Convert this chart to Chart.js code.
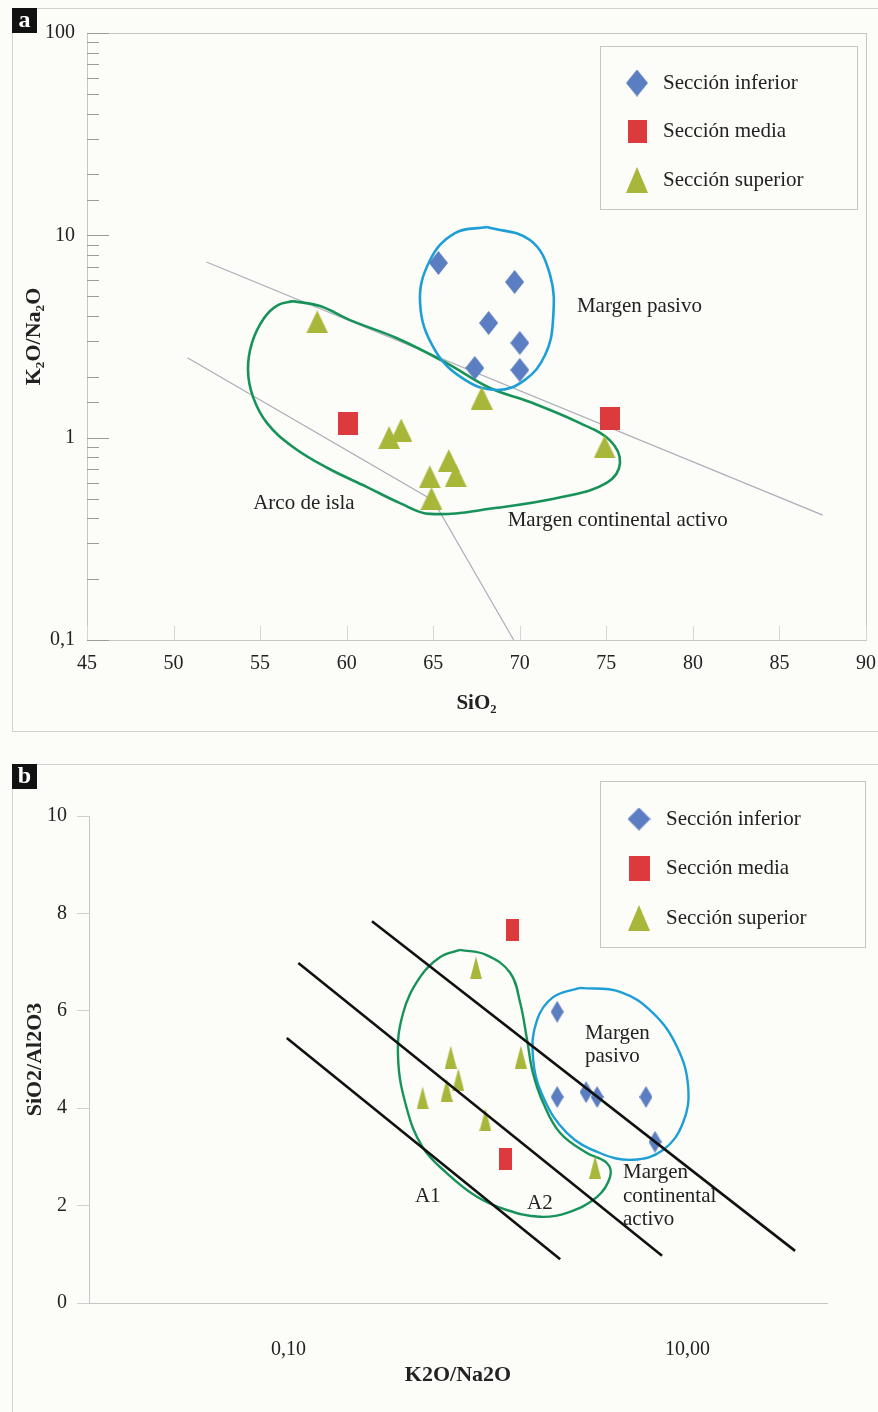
<!DOCTYPE html>
<html lang="es">
<head>
<meta charset="utf-8">
<title>Diagramas de discriminación tectónica</title>
<script src="https://cdn.jsdelivr.net/npm/chart.js@4.4.1/dist/chart.umd.min.js"></script>
<style>
  body { margin: 0; background: #fcfcf8; }
  #page { position: relative; width: 878px; height: 1412px; overflow: hidden; }
  .frame { position: absolute; border: 1px solid #d2d2d2; }
  .box { position: absolute; left: 0; width: 878px; }
  .tag { position: absolute; left: 12px; width: 25px; height: 25px; background: #111; color: #fff;
         font: bold 24px "Liberation Serif", serif; text-align: center; line-height: 22px; }
</style>
</head>
<body>
<div id="page">
  <div class="frame" style="left:12px;top:8px;width:866px;height:722px;"></div>
  <div class="frame" style="left:12px;top:764px;width:866px;height:660px;"></div>
  <div class="box" style="top:0;height:740px;"><canvas id="chartA" width="878" height="740"></canvas></div>
  <div class="box" style="top:740px;height:672px;"><canvas id="chartB" width="878" height="672"></canvas></div>
  <div class="tag" style="top:8px;">a</div>
  <div class="tag" style="top:764px;">b</div>
</div>

<script>
const FONT = '"Liberation Serif", "Times New Roman", serif';
Chart.defaults.font.family = FONT;
Chart.defaults.font.size = 20;
Chart.defaults.color = '#222';

const seriesNames = ['Sección inferior', 'Sección media', 'Sección superior'];
const seriesColors = ['#5b7ec2', '#dc3a3c', '#a8b63a'];

// ---- a) SiO2 vs K2O/Na2O -----------------------------------
const inferiorA_SiO2 = [65.3, 69.7, 68.2, 70.0, 67.4, 70.0];
const inferiorA_K2O = [7.3, 5.88, 3.69, 2.94, 2.21, 2.16];
const mediaA_SiO2 = [60.1, 75.2];
const mediaA_K2O = [1.17, 1.25];
const superiorA_SiO2 = [58.3, 67.8, 62.45, 63.15, 74.9, 64.8, 65.9, 66.3, 64.9];
const superiorA_K2O = [3.73, 1.57, 1.0, 1.09, 0.9, 0.64, 0.77, 0.65, 0.5];

// limites de campos (lineas grises)
const limA1_SiO2 = [51.9, 87.5];
const limA1_K2O = [7.38, 0.414];
const limA2_SiO2 = [50.8, 65.0, 69.65];
const limA2_K2O = [2.48, 0.489, 0.1];

// contorno verde (arco de isla + margen activo)
const campoA_SiO2 = [56.9, 58.46, 60.19, 62.91, 65.8, 68.28, 70.59, 73.48, 75.21, 75.79, 75.04, 72.5,
  68.69, 64.82, 63.08, 61.18, 58.87, 56.9, 55.4, 54.59, 54.3, 54.53, 55.23, 56.03];
const campoA_K2O = [4.73, 4.47, 3.81, 3.1, 2.33, 1.76, 1.5, 1.18, 0.97, 0.75, 0.6, 0.51,
  0.45, 0.42, 0.475, 0.57, 0.71, 0.9, 1.18, 1.59, 2.16, 2.94, 3.9, 4.52];
// contorno azul (margen pasivo)
const pasivoA_SiO2 = [68.11, 70.59, 71.75, 71.92, 71.46, 70.3, 68.69, 66.84, 65.1, 64.24, 64.82, 66.26];
const pasivoA_K2O = [10.99, 9.48, 6.37, 3.81, 2.56, 1.93, 1.72, 1.93, 2.71, 4.63, 7.55, 10.26];

const xTicksA = { min: 45, max: 90, step: 5 };
const yTicksA = [0.1, 1, 10, 100];
const yTickLabelsA = ['0,1', '1', '10', '100'];

// ---- b) K2O/Na2O vs SiO2/Al2O3 ------------------------------
const inferiorB_K2O = [2.22, 2.22, 3.1, 3.52, 6.19, 6.87];
const inferiorB_SiAl = [5.98, 4.23, 4.33, 4.23, 4.23, 3.31];
const mediaB_K2O = [1.33, 1.22];
const mediaB_SiAl = [7.66, 2.96];
const superiorB_K2O = [0.87, 0.65, 1.46, 0.71, 0.62, 0.47, 0.97, 3.44];
const superiorB_SiAl = [6.88, 5.05, 5.05, 4.58, 4.37, 4.21, 3.76, 2.79];

// limites (lineas negras)
const limB1_K2O = [0.098, 2.3];
const limB1_SiAl = [5.44, 0.9];
const limB2_K2O = [0.112, 7.45];
const limB2_SiAl = [6.98, 0.97];
const limB3_K2O = [0.262, 34.6];
const limB3_SiAl = [7.84, 1.07];

const campoB_K2O = [0.724, 0.977, 1.29, 1.45, 1.57, 1.68, 1.89, 2.3, 3.13, 3.95, 4.09, 3.52,
  2.49, 1.82, 1.24, 0.88, 0.62, 0.47, 0.39, 0.354, 0.375, 0.456, 0.574];
const campoB_SiAl = [7.25, 7.15, 6.78, 6.16, 5.4, 4.72, 4.11, 3.49, 3.08, 2.87, 2.59, 2.18,
  1.85, 1.77, 1.91, 2.18, 2.67, 3.2, 4.02, 5.05, 5.95, 6.69, 7.1];
const pasivoB_K2O = [2.89, 4.59, 6.72, 8.85, 10.07, 9.49, 7.53, 5.33, 3.64, 2.49, 1.89, 1.68, 1.76, 2.12];
const pasivoB_SiAl = [6.47, 6.39, 5.95, 5.26, 4.44, 3.7, 3.14, 2.94, 3.08, 3.49, 4.23, 5.05, 5.81, 6.28];

const xTicksB = [0.1, 10];
const xTickLabelsB = ['0,10', '10,00'];
const yTicksB = { min: 0, max: 10, step: 2 };

// ---- helpers -------------------------------------------------
const pts = (xs, ys) => xs.map((x, i) => ({ x: x, y: ys[i] }));
const closed = (xs, ys) => pts(xs.concat(xs[0]), ys.concat(ys[0]));

function marker(shape, color, w, h) {
    const c = document.createElement('canvas');
    c.width = w;
    c.height = h;
    const g = c.getContext('2d');
    g.fillStyle = color;
    g.beginPath();
    if (shape === 'diamond') {
        g.moveTo(w / 2, 0); g.lineTo(w, h / 2); g.lineTo(w / 2, h); g.lineTo(0, h / 2);
    } else if (shape === 'triangle') {
        g.moveTo(w / 2, 0); g.lineTo(w, h); g.lineTo(0, h);
    } else {
        g.rect(0, 0, w, h);
    }
    g.closePath();
    g.fill();
    return c;
}

const markersA = [marker('diamond', seriesColors[0], 19, 24), marker('square', seriesColors[1], 20, 23), marker('triangle', seriesColors[2], 22, 23)];
const legendMarkersA = [marker('diamond', seriesColors[0], 22, 27), marker('square', seriesColors[1], 19, 23), marker('triangle', seriesColors[2], 22, 26)];
const markersB = [marker('diamond', seriesColors[0], 13, 22), marker('square', seriesColors[1], 13, 22), marker('triangle', seriesColors[2], 12, 23)];
const legendMarkersB = [marker('diamond', seriesColors[0], 23, 23), marker('square', seriesColors[1], 21, 25), marker('triangle', seriesColors[2], 22, 26)];

function sameValue(a, b) {
    return Math.abs(a - b) <= Math.abs(b) * 1e-6;
}

// recuadro del area de grafico (solo panel a)
const frameBox = {
    id: 'frameBox',
    beforeDatasetsDraw(chart, args, opts) {
        if (!opts.show) return;
        const a = chart.chartArea, ctx = chart.ctx;
        ctx.save();
        ctx.strokeStyle = '#c6c6c6';
        ctx.lineWidth = 1;
        ctx.strokeRect(a.left + 0.5, a.top + 0.5, a.right - a.left, a.bottom - a.top);
        ctx.restore();
    }
};

// marcas de escala hacia dentro
const innerTicks = {
    id: 'innerTicks',
    beforeDatasetsDraw(chart, args, opts) {
        if (!opts.show) return;
        const a = chart.chartArea, ctx = chart.ctx;
        const ys = chart.scales.y, xs = chart.scales.x;
        ctx.save();
        ctx.lineWidth = 1;
        ctx.strokeStyle = '#9a9a9a';
        ys.ticks.forEach(t => {
            const py = Math.round(ys.getPixelForValue(t.value)) + 0.5;
            const len = yTicksA.some(v => sameValue(t.value, v)) ? 22 : 12;
            ctx.beginPath(); ctx.moveTo(a.left, py); ctx.lineTo(a.left + len, py); ctx.stroke();
        });
        ctx.strokeStyle = '#d6d6d6';
        xs.ticks.forEach(t => {
            const px = Math.round(xs.getPixelForValue(t.value)) + 0.5;
            ctx.beginPath(); ctx.moveTo(px, a.bottom); ctx.lineTo(px, a.bottom - 14); ctx.stroke();
        });
        ctx.restore();
    }
};

// textos de los campos
const notes = {
    id: 'notes',
    beforeDatasetsDraw(chart, args, opts) {
        const ctx = chart.ctx;
        ctx.save();
        ctx.font = opts.size + 'px ' + FONT;
        ctx.fillStyle = '#222';
        ctx.textAlign = 'left';
        ctx.textBaseline = 'middle';
        opts.items.forEach(n => {
            const px = chart.scales.x.getPixelForValue(n.x);
            const py = chart.scales.y.getPixelForValue(n.y);
            n.lines.forEach((txt, i) => ctx.fillText(txt, px, py + i * opts.lineGap));
        });
        ctx.restore();
    }
};

// leyenda con recuadro
const boxLegend = {
    id: 'boxLegend',
    afterDraw(chart, args, o) {
        const ctx = chart.ctx;
        ctx.save();
        ctx.fillStyle = '#fcfcf8';
        ctx.fillRect(o.left, o.top, o.width, o.height);
        ctx.strokeStyle = '#c6c6c6';
        ctx.lineWidth = 1;
        ctx.strokeRect(o.left + 0.5, o.top + 0.5, o.width, o.height);
        ctx.font = o.size + 'px ' + FONT;
        ctx.fillStyle = '#222';
        ctx.textBaseline = 'middle';
        seriesNames.forEach((name, i) => {
            const y = o.top + o.firstRow + i * o.rowGap;
            const m = o.markers[i];
            ctx.drawImage(m, o.markerX - m.width / 2, y - m.height / 2);
            ctx.fillText(name, o.textX, y);
        });
        ctx.restore();
    }
};

// ChartJs panel a -------------------------------------
new Chart(document.getElementById('chartA'), {
    type: 'scatter',
    data: {
        datasets: [
            { label: seriesNames[0], data: pts(inferiorA_SiO2, inferiorA_K2O), pointStyle: markersA[0], pointRadius: 10, order: 0 },
            { label: seriesNames[1], data: pts(mediaA_SiO2, mediaA_K2O), pointStyle: markersA[1], pointRadius: 10, order: 0 },
            { label: seriesNames[2], data: pts(superiorA_SiO2, superiorA_K2O), pointStyle: markersA[2], pointRadius: 10, order: 0 },
            { label: 'limite 1', data: pts(limA1_SiO2, limA1_K2O), showLine: true, borderColor: '#adadbb', borderWidth: 1.2, pointRadius: 0, order: 3 },
            { label: 'limite 2', data: pts(limA2_SiO2, limA2_K2O), showLine: true, borderColor: '#adadbb', borderWidth: 1.2, pointRadius: 0, order: 3 },
            { label: 'campo', data: closed(campoA_SiO2, campoA_K2O), showLine: true, borderColor: '#17935a', borderWidth: 2.6, tension: 0.4, pointRadius: 0, order: 2 },
            { label: 'pasivo', data: closed(pasivoA_SiO2, pasivoA_K2O), showLine: true, borderColor: '#1d9fd6', borderWidth: 2.6, tension: 0.4, pointRadius: 0, order: 1 }
        ]
    },
    options: {
        responsive: false,
        animation: false,
        events: [],
        layout: { padding: { top: 33, right: 12, left: 0, bottom: 20 } },
        plugins: {
            legend: { display: false },
            tooltip: { enabled: false },
            frameBox: { show: true },
            innerTicks: { show: true },
            notes: {
                size: 21, lineGap: 24,
                items: [
                    { x: 73.3, y: 4.47, lines: ['Margen pasivo'] },
                    { x: 54.6, y: 0.475, lines: ['Arco de isla'] },
                    { x: 69.3, y: 0.39, lines: ['Margen continental activo'] }
                ]
            },
            boxLegend: { left: 600, top: 46, width: 257, height: 163, firstRow: 37, rowGap: 48.5, markerX: 637, textX: 663, size: 21, markers: legendMarkersA }
        },
        scales: {
            x: {
                type: 'linear', min: xTicksA.min, max: xTicksA.max,
                afterFit: s => { s.height = 80; s.paddingLeft = 0; s.paddingRight = 0; },
                ticks: { stepSize: xTicksA.step, padding: 12 },
                grid: { display: false, drawTicks: false },
                border: { display: false },
                title: { display: true, text: 'SiO₂', font: { weight: 'bold', size: 21 }, padding: { top: 0, bottom: 4 } }
            },
            y: {
                type: 'logarithmic', min: yTicksA[0], max: yTicksA[yTicksA.length - 1],
                afterFit: s => { s.width = 87; },
                ticks: {
                    autoSkip: false, padding: 12,
                    callback: v => {
                        const i = yTicksA.findIndex(t => sameValue(v, t));
                        return i >= 0 ? yTickLabelsA[i] : '';
                    }
                },
                grid: { display: false, drawTicks: false },
                border: { display: false },
                title: { display: true, text: 'K₂O/Na₂O', font: { weight: 'bold', size: 22 }, padding: { top: 21, bottom: 0 } }
            }
        }
    },
    plugins: [frameBox, innerTicks, notes, boxLegend]
});

// ChartJs panel b -------------------------------------
new Chart(document.getElementById('chartB'), {
    type: 'scatter',
    data: {
        datasets: [
            { label: 'limite A1', data: pts(limB1_K2O, limB1_SiAl), showLine: true, borderColor: '#111', borderWidth: 2.6, pointRadius: 0, order: 0 },
            { label: 'limite A2', data: pts(limB2_K2O, limB2_SiAl), showLine: true, borderColor: '#111', borderWidth: 2.6, pointRadius: 0, order: 0 },
            { label: 'limite A3', data: pts(limB3_K2O, limB3_SiAl), showLine: true, borderColor: '#111', borderWidth: 2.6, pointRadius: 0, order: 0 },
            { label: seriesNames[0], data: pts(inferiorB_K2O, inferiorB_SiAl), pointStyle: markersB[0], pointRadius: 10, order: 1 },
            { label: seriesNames[1], data: pts(mediaB_K2O, mediaB_SiAl), pointStyle: markersB[1], pointRadius: 10, order: 1 },
            { label: seriesNames[2], data: pts(superiorB_K2O, superiorB_SiAl), pointStyle: markersB[2], pointRadius: 10, order: 1 },
            { label: 'campo', data: closed(campoB_K2O, campoB_SiAl), showLine: true, borderColor: '#17935a', borderWidth: 2.4, tension: 0.4, pointRadius: 0, order: 2 },
            { label: 'pasivo', data: closed(pasivoB_K2O, pasivoB_SiAl), showLine: true, borderColor: '#1d9fd6', borderWidth: 2.4, tension: 0.4, pointRadius: 0, order: 2 }
        ]
    },
    options: {
        responsive: false,
        animation: false,
        events: [],
        layout: { padding: { top: 76, right: 51, left: 0, bottom: 10 } },
        plugins: {
            legend: { display: false },
            tooltip: { enabled: false },
            frameBox: { show: false },
            innerTicks: { show: false },
            notes: {
                size: 21, lineGap: 23.5,
                items: [
                    { x: 3.06, y: 5.54, lines: ['Margen', 'pasivo'] },
                    { x: 0.43, y: 2.18, lines: ['A1'] },
                    { x: 1.57, y: 2.05, lines: ['A2'] },
                    { x: 4.75, y: 2.67, lines: ['Margen', 'continental', 'activo'] }
                ]
            },
            boxLegend: { left: 600, top: 41, width: 265, height: 166, firstRow: 38, rowGap: 49.5, markerX: 639, textX: 666, size: 21, markers: legendMarkersB }
        },
        scales: {
            x: {
                type: 'logarithmic', min: 0.01, max: 50,
                afterFit: s => { s.height = 99; },
                afterBuildTicks: s => { s.ticks = xTicksB.map(v => ({ value: v })); },
                ticks: { autoSkip: false, padding: 35, callback: (v, i) => xTickLabelsB[i] },
                grid: { display: false, drawTicks: false },
                border: { color: '#c6c6c6' },
                title: { display: true, text: 'K2O/Na2O', font: { weight: 'bold', size: 22 }, padding: { top: 0, bottom: 13 } }
            },
            y: {
                type: 'linear', min: yTicksB.min, max: yTicksB.max,
                afterFit: s => { s.width = 89; },
                ticks: { stepSize: yTicksB.step, padding: 10 },
                grid: { drawOnChartArea: false, tickLength: 12, color: '#cfcfcf' },
                border: { color: '#c6c6c6' },
                title: { display: true, text: 'SiO2/Al2O3', font: { weight: 'bold', size: 22 }, padding: { top: 22, bottom: 0 } }
            }
        }
    },
    plugins: [frameBox, innerTicks, notes, boxLegend]
});
</script>
</body>
</html>
